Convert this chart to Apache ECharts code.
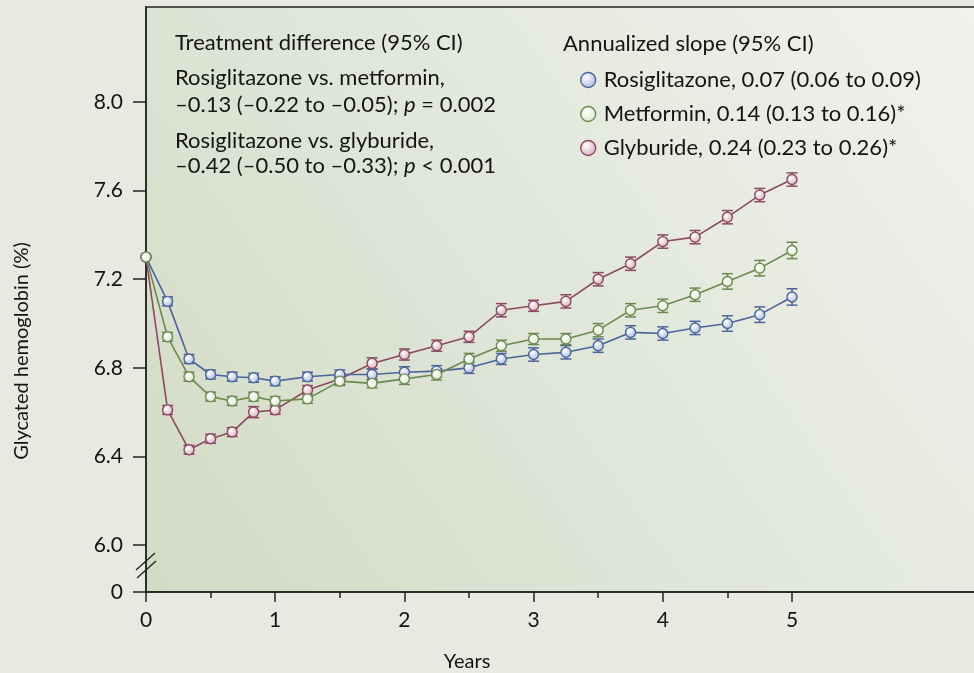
<!DOCTYPE html>
<html>
<head>
<meta charset="utf-8">
<script src="https://cdn.jsdelivr.net/npm/echarts@6/dist/echarts.min.js"></script>
<style>
  html, body { margin: 0; padding: 0; background: #e8eae1; }
  #main { width: 974px; height: 673px; }
</style>
</head>
<body>
<div id="main"></div>
<script>
// years of follow-up
var years = [0, 0.167, 0.333, 0.5, 0.667, 0.833, 1, 1.25, 1.5, 1.75, 2, 2.25, 2.5, 2.75, 3, 3.25, 3.5, 3.75, 4, 4.25, 4.5, 4.75, 5];

// glycated hemoglobin (%) per treatment
var rosiglitazone = [7.30, 7.10, 6.84, 6.77, 6.76, 6.755, 6.74, 6.76, 6.77, 6.77, 6.78, 6.785, 6.80, 6.84, 6.86, 6.87, 6.90, 6.96, 6.955, 6.98, 7.00, 7.04, 7.12];
var metformin     = [7.30, 6.94, 6.76, 6.67, 6.65, 6.67, 6.65, 6.66, 6.74, 6.73, 6.75, 6.77, 6.84, 6.90, 6.93, 6.93, 6.97, 7.06, 7.08, 7.13, 7.19, 7.25, 7.33];
var glyburide     = [7.30, 6.61, 6.43, 6.48, 6.51, 6.60, 6.61, 6.70, 6.75, 6.82, 6.86, 6.90, 6.94, 7.06, 7.08, 7.10, 7.20, 7.27, 7.37, 7.39, 7.48, 7.58, 7.65];

// half width of the error bars
var rosiErr = [0, 0.02, 0.02, 0.02, 0.02, 0.02, 0.02, 0.02, 0.02, 0.025, 0.025, 0.025, 0.025, 0.025, 0.03, 0.03, 0.03, 0.03, 0.03, 0.03, 0.035, 0.035, 0.037];
var metErr  = [0, 0.02, 0.02, 0.02, 0.02, 0.02, 0.02, 0.02, 0.02, 0.02, 0.025, 0.025, 0.025, 0.025, 0.025, 0.025, 0.03, 0.03, 0.03, 0.03, 0.035, 0.035, 0.037];
var glyErr  = [0, 0.02, 0.02, 0.02, 0.02, 0.025, 0.02, 0.02, 0.025, 0.025, 0.025, 0.025, 0.025, 0.03, 0.025, 0.03, 0.03, 0.03, 0.03, 0.03, 0.03, 0.03, 0.03];

var seriesNames = ['Rosiglitazone', 'Metformin', 'Glyburide'];
var slopeLabels = [', 0.07 (0.06 to 0.09)', ', 0.14 (0.13 to 0.16)*', ', 0.24 (0.23 to 0.26)*'];

// y tick labels; the "0" sits below the axis break
var zeroPos = 5.788;
var yTicks = [zeroPos, 6.0, 6.4, 6.8, 7.2, 7.6, 8.0];
var xTicks = [0, 1, 2, 3, 4, 5];
var xMinorTicks = [0.5, 1.5, 2.5, 3.5, 4.5];

var lineColors = ['#4b6599', '#6b8a52', '#8b4a5f'];
var fillColors = ['#aebbe0', '#dde9cd', '#d8b0bf'];

var FONT = 'Lato, "Open Sans", sans-serif';

function pairs(vals) {
    return years.map(function (x, i) { return [x, vals[i]]; });
}
function errData(vals, err) {
    return years.map(function (x, i) { return [x, vals[i] - err[i], vals[i] + err[i]]; })
        .filter(function (d, i) { return err[i] > 0; });
}
function markerFill(i) {
    return new echarts.graphic.RadialGradient(0.38, 0.35, 0.65, [
        {offset: 0, color: '#ffffff'},
        {offset: 1, color: fillColors[i]}
    ]);
}

var myChart = echarts.init(document.getElementById('main'));

var values = [rosiglitazone, metformin, glyburide];
var errs = [rosiErr, metErr, glyErr];
var zOrder = [4, 5, 3];

var series = [];
// lines with markers
values.forEach(function (v, i) {
    series.push({
        name: seriesNames[i],
        type: 'line',
        data: pairs(v),
        z: zOrder[i] + 10,
        symbol: 'circle',
        symbolSize: 10,
        lineStyle: {color: lineColors[i], width: 1.6},
        itemStyle: {color: markerFill(i), borderColor: lineColors[i], borderWidth: 1.4},
        emphasis: {disabled: true},
        animation: false
    });
});
// error bars
values.forEach(function (v, i) {
    series.push({
        type: 'custom',
        data: errData(v, errs[i]),
        z: zOrder[i],
        silent: true,
        animation: false,
        renderItem: function (params, api) {
            var top = api.coord([api.value(0), api.value(2)]);
            var bot = api.coord([api.value(0), api.value(1)]);
            var w = 5.5;
            var st = {stroke: lineColors[i], lineWidth: 1.5};
            return {
                type: 'group',
                children: [
                    {type: 'line', shape: {x1: top[0], y1: top[1], x2: bot[0], y2: bot[1]}, style: st},
                    {type: 'line', shape: {x1: top[0] - w, y1: top[1], x2: top[0] + w, y2: top[1]}, style: st},
                    {type: 'line', shape: {x1: bot[0] - w, y1: bot[1], x2: bot[0] + w, y2: bot[1]}, style: st}
                ]
            };
        }
    });
});

var txtFont = '22px ' + FONT;
var txtFill = '#141414';
var italic = {rich: {i: {font: 'italic 22px ' + FONT, fill: txtFill}}};
function label(left, top, text, extra) {
    return {type: 'text', left: left, top: top, z: 50,
        style: Object.assign({text: text, font: txtFont, fill: txtFill}, extra || {})};
}

var option = {
    backgroundColor: '#e8eae1',
    textStyle: {fontFamily: FONT},
    grid: {
        left: 146, top: 7, right: -6, bottom: 81,
        outerBoundsMode: 'none',
        show: true,
        borderColor: '#222',
        borderWidth: 1.5,
        backgroundColor: new echarts.graphic.LinearGradient(0, 1, 1, 0, [
            {offset: 0, color: '#d2dbc5'},
            {offset: 0.55, color: '#e3e8dc'},
            {offset: 1, color: '#f1f2ee'}
        ])
    },
    xAxis: [{
        type: 'value',
        min: 0,
        max: 6.455,
        axisLine: {lineStyle: {color: '#222', width: 1.5}},
        axisTick: {customValues: xTicks, length: 10, lineStyle: {color: '#222', width: 1.5}},
        axisLabel: {customValues: xTicks, fontSize: 21, color: '#141414', margin: 18, fontFamily: FONT},
        splitLine: {show: false}
    }, {
        type: 'value',
        position: 'bottom',
        min: 0,
        max: 6.455,
        axisLine: {show: false},
        axisTick: {customValues: xMinorTicks, length: 6, lineStyle: {color: '#222', width: 1.5}},
        axisLabel: {show: false},
        splitLine: {show: false}
    }],
    yAxis: {
        type: 'value',
        min: zeroPos,
        max: 8.429,
        axisLine: {show: true, lineStyle: {color: '#222', width: 1.5}},
        axisTick: {show: true, customValues: yTicks, length: 13, lineStyle: {color: '#222', width: 1.5}},
        axisLabel: {
            customValues: yTicks,
            fontSize: 21,
            color: '#141414',
            margin: 23,
            fontFamily: FONT,
            formatter: function (v) { return v < 5.9 ? '0' : v.toFixed(1); }
        },
        splitLine: {show: false}
    },
    legend: {
        orient: 'vertical',
        left: 575,
        top: 64,
        itemWidth: 15,
        itemHeight: 15,
        itemGap: 12,
        selectedMode: false,
        data: seriesNames.map(function (n, i) {
            return {
                name: n,
                icon: 'circle',
                itemStyle: {color: markerFill(i), borderColor: lineColors[i], borderWidth: 1.4}
            };
        }),
        textStyle: {fontSize: 22, color: '#141414', fontFamily: FONT, lineHeight: 22, padding: [0, 0, 0, 3]},
        formatter: function (name) {
            return name + slopeLabels[seriesNames.indexOf(name)];
        }
    },
    graphic: [
        label(175, 32, 'Treatment difference (95% CI)'),
        label(175, 67, 'Rosiglitazone vs. metformin,'),
        label(175, 94, '\u20130.13 (\u20130.22 to \u20130.05); {i|p} = 0.002', italic),
        label(175, 130, 'Rosiglitazone vs. glyburide,'),
        label(175, 155, '\u20130.42 (\u20130.50 to \u20130.33); {i|p} < 0.001', italic),
        label(563, 33, 'Annualized slope (95% CI)'),
        {
            type: 'text', x: 22, y: 351, rotation: Math.PI / 2, z: 50,
            style: {text: 'Glycated hemoglobin (%)', font: '20px ' + FONT, fill: '#141414',
                align: 'center', verticalAlign: 'middle'}
        },
        {
            type: 'text', x: 467, y: 662, z: 50,
            style: {text: 'Years', font: '20px ' + FONT, fill: '#141414',
                align: 'center', verticalAlign: 'middle'}
        },
        // axis break marks
        {type: 'line', z: 60, shape: {x1: 136, y1: 570, x2: 155, y2: 553}, style: {stroke: '#222', lineWidth: 1.3}},
        {type: 'line', z: 60, shape: {x1: 137, y1: 578, x2: 156, y2: 561}, style: {stroke: '#222', lineWidth: 1.3}}
    ],
    series: series
};

myChart.setOption(option);
</script>
</body>
</html>
